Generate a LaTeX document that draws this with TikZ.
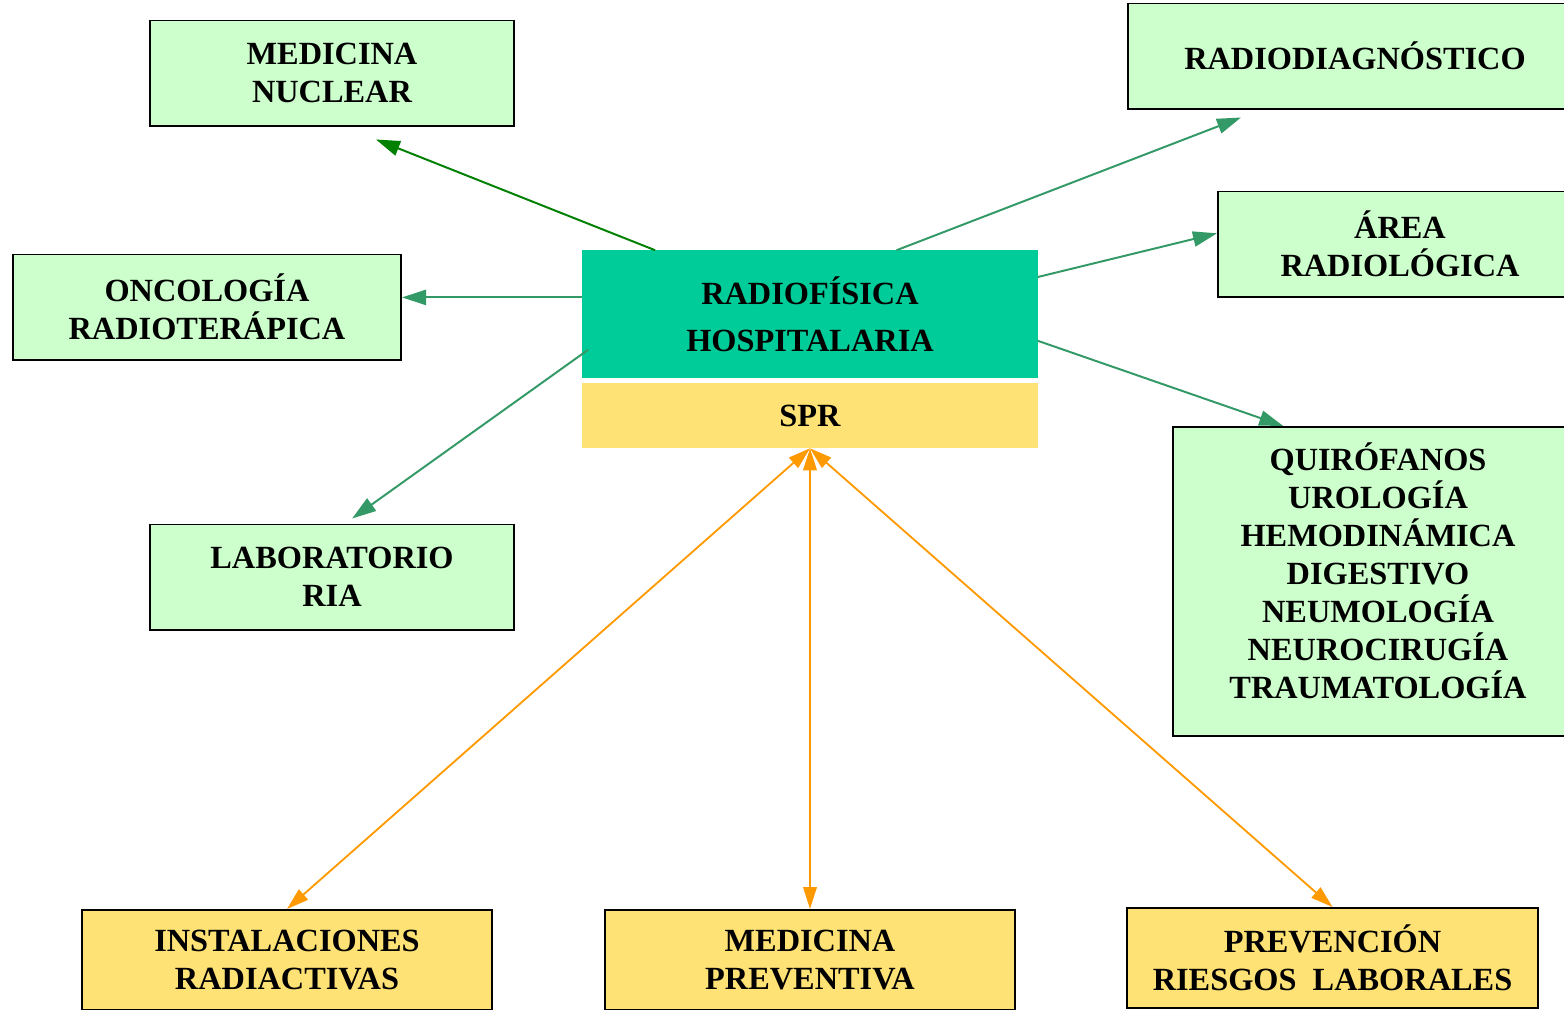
\documentclass[tikz,border=0pt]{standalone}
\usepackage{fontspec}
\setmainfont{Liberation Serif}
\usepackage{tikz}
\usetikzlibrary{arrows.meta,calc}

\definecolor{paleleaf}{RGB}{204,255,204}
\definecolor{seafoam}{RGB}{0,204,153}
\definecolor{sandbox}{RGB}{255,226,117}
\definecolor{darkleaf}{RGB}{0,128,0}
\definecolor{sealink}{RGB}{51,153,102}
\definecolor{amber}{RGB}{255,153,0}

\begin{document}
\begin{tikzpicture}[x=0.025cm,y=-0.025cm,
  service/.style={draw,line width=1.4pt,fill=paleleaf,align=center,
    inner sep=0pt,minimum height=2.625cm,
    font=\bfseries\fontsize{23}{27}\selectfont},
  core/.style={fill=seafoam,align=center,inner sep=0pt,
    minimum width=11.375cm,minimum height=3.175cm,
    font=\bfseries\fontsize{23}{33.4}\selectfont},
  safety/.style={fill=sandbox,align=center,inner sep=0pt,
    minimum width=11.375cm,minimum height=1.625cm,
    font=\bfseries\fontsize{23}{27}\selectfont},
  partner/.style={service,fill=sandbox,minimum width=10.25cm,minimum height=2.5cm},
  link/.style={-{Triangle[length=0.6cm,width=0.38cm]},line width=1.4pt,color=sealink},
  duty/.style={{Triangle[length=0.55cm,width=0.34cm]}-{Triangle[length=0.55cm,width=0.34cm]},
    line width=1.3pt,color=amber}
]
\useasboundingbox (0,0) rectangle (1564,1009);

% central unit
\node[core] (hosp) at (810,314) {RADIOFÍSICA\\HOSPITALARIA};
\node[safety] (spr) at (810,415.5) {SPR};

% clinical services
\node[service,minimum width=9.1cm] (nuclear) at (332,73) {MEDICINA\\NUCLEAR};
\node[service,minimum width=11.35cm] (diag) at (1355,56) {RADIODIAGNÓSTICO};
\node[service,minimum width=9.1cm] (area) at (1400,244) {ÁREA\\RADIOLÓGICA};
\node[service,minimum width=9.7cm] (onco) at (207,307) {ONCOLOGÍA\\RADIOTERÁPICA};
\node[service,minimum width=9.1cm] (lab) at (332,577) {LABORATORIO\\RIA};
\node[service,minimum width=10.25cm,minimum height=7.725cm,text depth=0.55cm] (quir) at (1378,581.5)
  {QUIRÓFANOS\\UROLOGÍA\\HEMODINÁMICA\\DIGESTIVO\\NEUMOLOGÍA\\NEUROCIRUGÍA\\TRAUMATOLOGÍA};

% partners of the SPR
\node[partner] (inst) at (287,960) {INSTALACIONES\\RADIACTIVAS};
\node[partner] (prev) at (810,960) {MEDICINA\\PREVENTIVA};
\node[partner] (risk) at (1332.5,958) {PREVENCIÓN\\RIESGOS~~LABORALES};

\draw[link,color=darkleaf] ($(hosp.north west)!0.16!(hosp.north east)$)
  -- ($(nuclear.south west)!0.62!(nuclear.south east)+(0,13)$);
\draw[link] ($(hosp.north west)!0.69!(hosp.north east)$)
  -- ($(diag.south west)!0.25!(diag.south east)+(0,8)$);
\draw[link] ($(hosp.north east)!0.21!(hosp.south east)$)
  -- ($(area.north west)!0.4!(area.south west)$);
\draw[link] ($(hosp.north east)!0.71!(hosp.south east)$)
  -- ($(quir.north west)!0.27!(quir.north east)$);
\draw[link] ($(hosp.north west)!0.37!(hosp.south west)$) coordinate (onco-out)
  -- (onco-out -| onco.east);
\draw[link] ($(hosp.north west)!0.78!(hosp.south west)+(6,0)$)
  -- ($(lab.north west)!0.555!(lab.north east)+(0,-5)$);

\draw[duty] (spr.south) -- (inst.north);
\draw[duty] (spr.south) -- (prev.north);
\draw[duty] (spr.south) -- (risk.north);
\end{tikzpicture}
\end{document}
